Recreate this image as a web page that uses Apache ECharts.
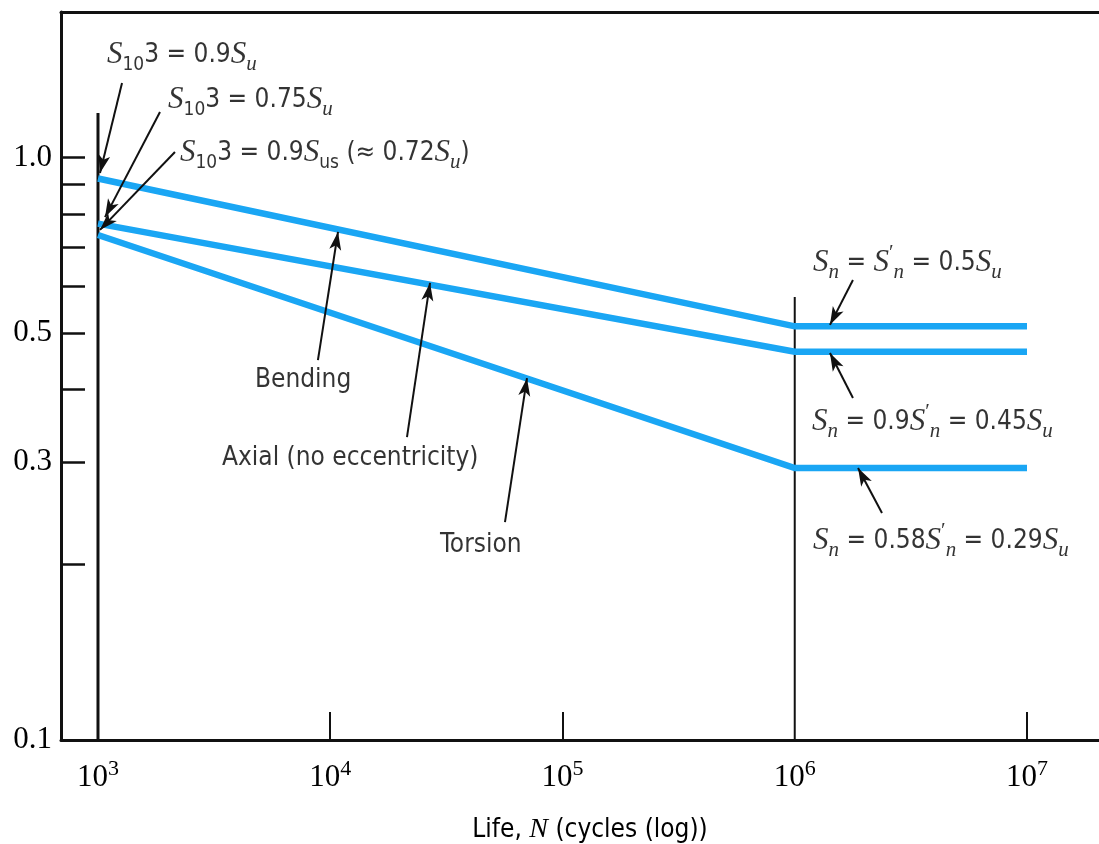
<!DOCTYPE html>
<html><head><meta charset="utf-8">
<script src="https://cdn.jsdelivr.net/npm/echarts@6/dist/echarts.min.js"></script>
<style>html,body{margin:0;padding:0;background:#fff}#c{width:1099px;height:844px}</style>
</head><body><div id="c"></div>
<script>
// ---- data ----
const cycles = [1e3, 1e6, 1e7];
const bending = [0.92, 0.513, 0.513];
const axial = [0.77, 0.464, 0.464];
const torsion = [0.736, 0.293, 0.293];
const xTickLabels = [1e3, 1e4, 1e5, 1e6, 1e7];
const xTicks = [1e4, 1e5, 1e7];
const yTickLabels = [0.1, 0.3, 0.5, 1.0];
const yTicks = [0.2, 0.3, 0.4, 0.5, 0.6, 0.7, 0.8, 0.9, 1.0];
const xRange = [693, 2.042e7];
const yRange = [0.1, 1.777];
const guideN = [1e3, 1e6];
const guideTop = [1.192, 0.576];
const arrowFrom = [[1269, 1.342], [1849, 1.197], [2145, 1.022], [8851, 0.449], [21400, 0.331], [56540, 0.2366], [1.781e6, 0.616], [1.781e6, 0.3865], [2.375e6, 0.2453]];
const arrowTo = [[1020, 0.9406], [1072, 0.790], [1020, 0.751], [10800, 0.745], [26890, 0.609], [70320, 0.418], [1.418e6, 0.516], [1.418e6, 0.4618], [1.873e6, 0.2931]];
const labelAt = [[1093, 1.4996], [2002, 1.255], [2254, 1.018], [4742, 0.415], [3420, 0.305], [29690, 0.2162], [1.199e6, 0.659], [1.187e6, 0.3515], [1.199e6, 0.2196]];
const labelText = [
  '{S|S}{sub|10}{t|3 = 0.9}{S|S}{subi|u}',
  '{S|S}{sub|10}{t|3 = 0.75}{S|S}{subi|u}',
  '{S|S}{sub|10}{t|3 = 0.9}{S|S}{sub|us}{t| (≈ 0.72}{S|S}{subi|u}{t|)}',
  '{t|Bending}',
  '{t|Axial (no eccentricity)}',
  '{t|Torsion}',
  '{S|S}{subi|n}{t| = }{S|S}{pr|′}{subi|n}{t| = 0.5}{S|S}{subi|u}',
  '{S|S}{subi|n}{t| = 0.9}{S|S}{pr|′}{subi|n}{t| = 0.45}{S|S}{subi|u}',
  '{S|S}{subi|n}{t| = 0.58}{S|S}{pr|′}{subi|n}{t| = 0.29}{S|S}{subi|u}'
];
const xName = '{t|Life, }{N|N}{t| (cycles (log))}';

// ---- styles ----
const SANS = "'DejaVu Sans Condensed', 'Liberation Sans', sans-serif";
const SERIF = "'Liberation Serif', 'DejaVu Serif', serif";
const INK = '#111';
const TXT = '#000';
const BLUE = '#1aa6f4';
const rich = {
  t: {fontFamily: SANS, fontSize: 26, color: TXT, lineHeight: 40},
  S: {fontFamily: SERIF, fontStyle: 'italic', fontSize: 31, color: TXT, lineHeight: 40},
  sub: {fontFamily: SANS, fontSize: 19, color: TXT, lineHeight: 16, verticalAlign: 'bottom'},
  subi: {fontFamily: SERIF, fontStyle: 'italic', fontSize: 21, color: TXT, lineHeight: 16, verticalAlign: 'bottom'},
  pr: {fontFamily: SERIF, fontSize: 21, color: TXT, lineHeight: 16, verticalAlign: 'top'},
  N: {fontFamily: SERIF, fontStyle: 'italic', fontSize: 28, color: TXT, lineHeight: 40}
};

function seg(xs, ys) { return xs.map((x, i) => [x, ys[i]]); }

const chart = echarts.init(document.getElementById('c'), null, {renderer: 'canvas'});
const series = [
  {name: 'Bending', type: 'line', data: seg(cycles, bending)},
  {name: 'Axial', type: 'line', data: seg(cycles, axial)},
  {name: 'Torsion', type: 'line', data: seg(cycles, torsion)}
].map(s => Object.assign(s, {symbol: 'none', silent: true, lineStyle: {color: BLUE, width: 6.5, cap: 'butt', join: 'miter'}, z: 3}));

guideN.forEach((n, i) => {
  series.push({type: 'line', symbol: 'none', silent: true, z: 2,
    data: [[n, yRange[0]], [n, guideTop[i]]],
    lineStyle: {color: INK, width: i === 0 ? 3 : 2}});
});

series.push({
  type: 'scatter', symbolSize: 0, silent: true, z: 5,
  data: labelAt.map((p, i) => ({value: p, label: {formatter: labelText[i]}})),
  label: {show: true, position: [0, 0], align: 'left', verticalAlign: 'middle', rich: rich},
  markLine: {
    silent: true, animation: false,
    symbol: ['none', 'arrow'], symbolSize: 0,
    label: {show: false},
    lineStyle: {color: INK, width: 2, type: 'solid'},
    emphasis: {disabled: true},
    data: arrowFrom.map((f, i) => [
      {coord: f, symbol: 'none'},
      {coord: arrowTo[i], symbol: 'arrow', symbolSize: [9, 18]}
    ])
  }
});

const option = {
  animation: false,
  backgroundColor: '#fff',
  grid: {left: 61, right: 0, top: 12, bottom: 104, containLabel: false, outerBoundsMode: 'none'},
  xAxis: [{
    type: 'log', logBase: 10, min: xRange[0], max: xRange[1], position: 'bottom',
    axisLine: {lineStyle: {color: INK, width: 3}},
    axisTick: {show: true, inside: true, length: 28, lineStyle: {color: INK, width: 2}, customValues: xTicks},
    minorTick: {show: false}, splitLine: {show: false},
    axisLabel: {customValues: xTickLabels, margin: 18,
      formatter: v => '{n|10}{sup|' + Math.round(Math.log10(v)) + '}',
      rich: {
        n: {fontFamily: SERIF, fontSize: 31, color: TXT, lineHeight: 40},
        sup: {fontFamily: SERIF, fontSize: 22, color: TXT, lineHeight: 16, verticalAlign: 'top'}
      }},
    name: xName, nameLocation: 'middle', nameGap: 70,
    nameTextStyle: {rich: rich, padding: [0, 0, 0, 20]}
  }, {
    type: 'log', logBase: 10, min: xRange[0], max: xRange[1], position: 'top',
    axisLine: {show: true, lineStyle: {color: INK, width: 3}},
    axisTick: {show: false}, axisLabel: {show: false}, splitLine: {show: false}, minorTick: {show: false}
  }],
  yAxis: {
    type: 'log', logBase: 10, min: yRange[0], max: yRange[1],
    axisLine: {show: true, lineStyle: {color: INK, width: 3}},
    axisTick: {show: true, inside: true, length: 24, lineStyle: {color: INK, width: 2.5}, customValues: yTicks},
    minorTick: {show: false}, splitLine: {show: false},
    axisLabel: {customValues: yTickLabels, margin: 9, formatter: v => v.toFixed(1),
      fontFamily: SERIF, fontSize: 31, color: TXT}
  },
  series: series
};
chart.setOption(option);
</script>
</body></html>
